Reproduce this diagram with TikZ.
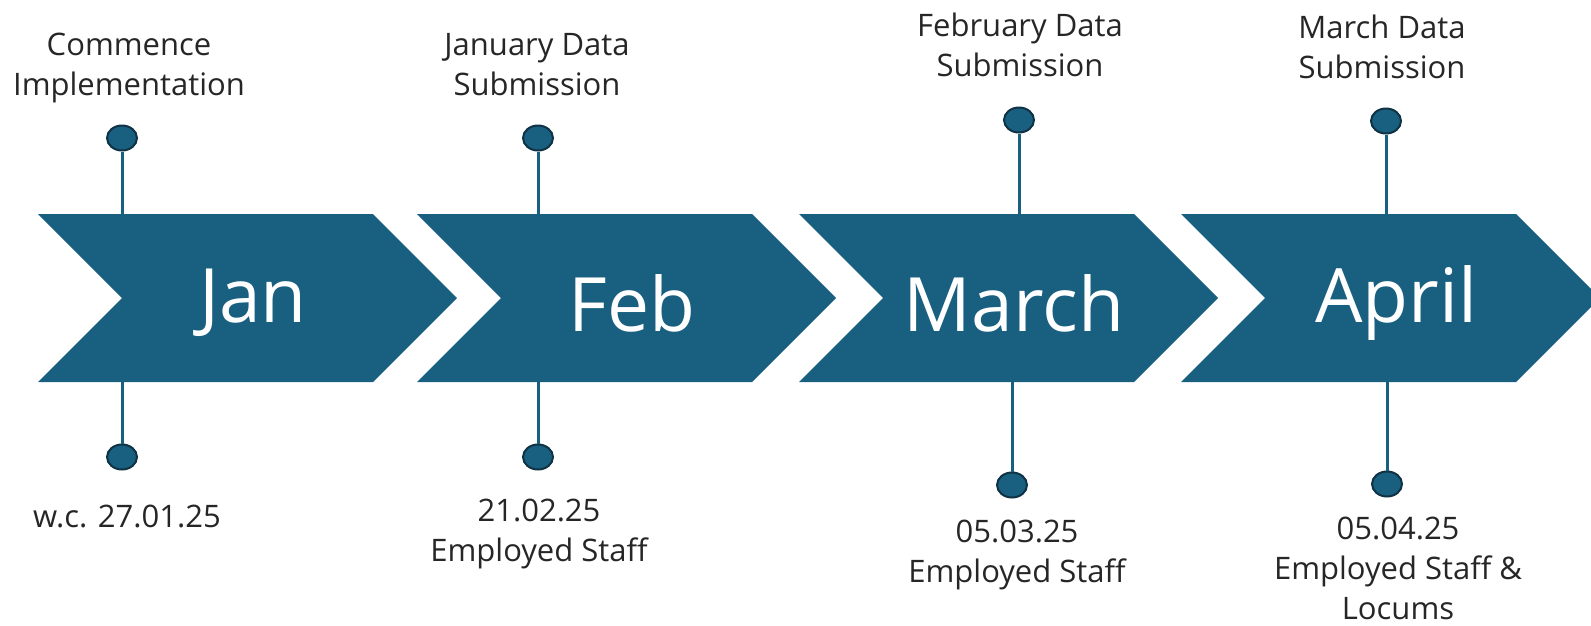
\documentclass[tikz,border=0pt]{standalone}
\usepackage{fontspec}
\setmainfont{Open Sans}
\usetikzlibrary{shapes.geometric}
\definecolor{chevblue}{HTML}{185F80}
\definecolor{dotrim}{HTML}{0F3345}
\definecolor{txtgray}{HTML}{262626}

\begin{document}
\begin{tikzpicture}[x=1pt, y=-1pt,
	every node/.style={font=\fontsize{31}{40}\selectfont, text=txtgray},
	chev/.style={fill=chevblue},
	month/.style={font=\fontsize{75}{90}\selectfont, text=white},
	dot/.style={ellipse, draw=dotrim, fill=chevblue, line width=2, minimum width=30, minimum height=25, inner sep=0},
	stem/.style={draw=chevblue, line width=3},
	lab/.style={align=center}]
	\useasboundingbox (0,0) rectangle (1591,625);
	\clip (0,0) rectangle (1591,625);
	\def\tip{84}
	\def\body{335}
	% chevrons
	\foreach \l/\m in {38/Jan, 417/Feb, 799/March, 1181/April}
	{
		\fill[chev] (\l,214) -- ++(\body,0) -- ++(\tip,\tip) -- ++(-\tip,\tip) -- ++(-\body,0) -- ++(\tip,-\tip) -- cycle;
		\node[month] (\m) at (\l+215,303) {\m};
	}
	% stems and dots
	\foreach \n/\xt/\yt/\xb/\yb in {jan/122/138/122/457, feb/538/138/538/457, mar/1019/120/1012/485, apr/1386/121/1387/484}
	{
		\node[dot] (\n-top) at (\xt,\yt) {};
		\coordinate (\n-up) at (\xt,214);
		\draw[stem] (\n-top) -- (\n-up);
		\node[dot] (\n-bot) at (\xb,\yb) {};
		\coordinate (\n-down) at (\xb,382);
		\draw[stem] (\n-down) -- (\n-bot);
	}
	% labels
	\node[lab] (jan-note) at (129,68) {Commence\\Implementation};
	\node[lab] (jan-date) at (127,516) {w.c. 27.01.25};
	\node[lab] (feb-note) at (537,65) {January Data\\Submission};
	\node[lab] (feb-date) at (539,534) {21.02.25\\Employed Staff};
	\node[lab] (mar-note) at (1020,45) {February Data\\Submission};
	\node[lab] (mar-date) at (1017,555) {05.03.25\\Employed Staff};
	\node[lab] (apr-note) at (1382,47) {March Data\\Submission};
	\node[lab] (apr-date) at (1398,568) {05.04.25\\Employed Staff \&\\Locums};
\end{tikzpicture}
\end{document}
